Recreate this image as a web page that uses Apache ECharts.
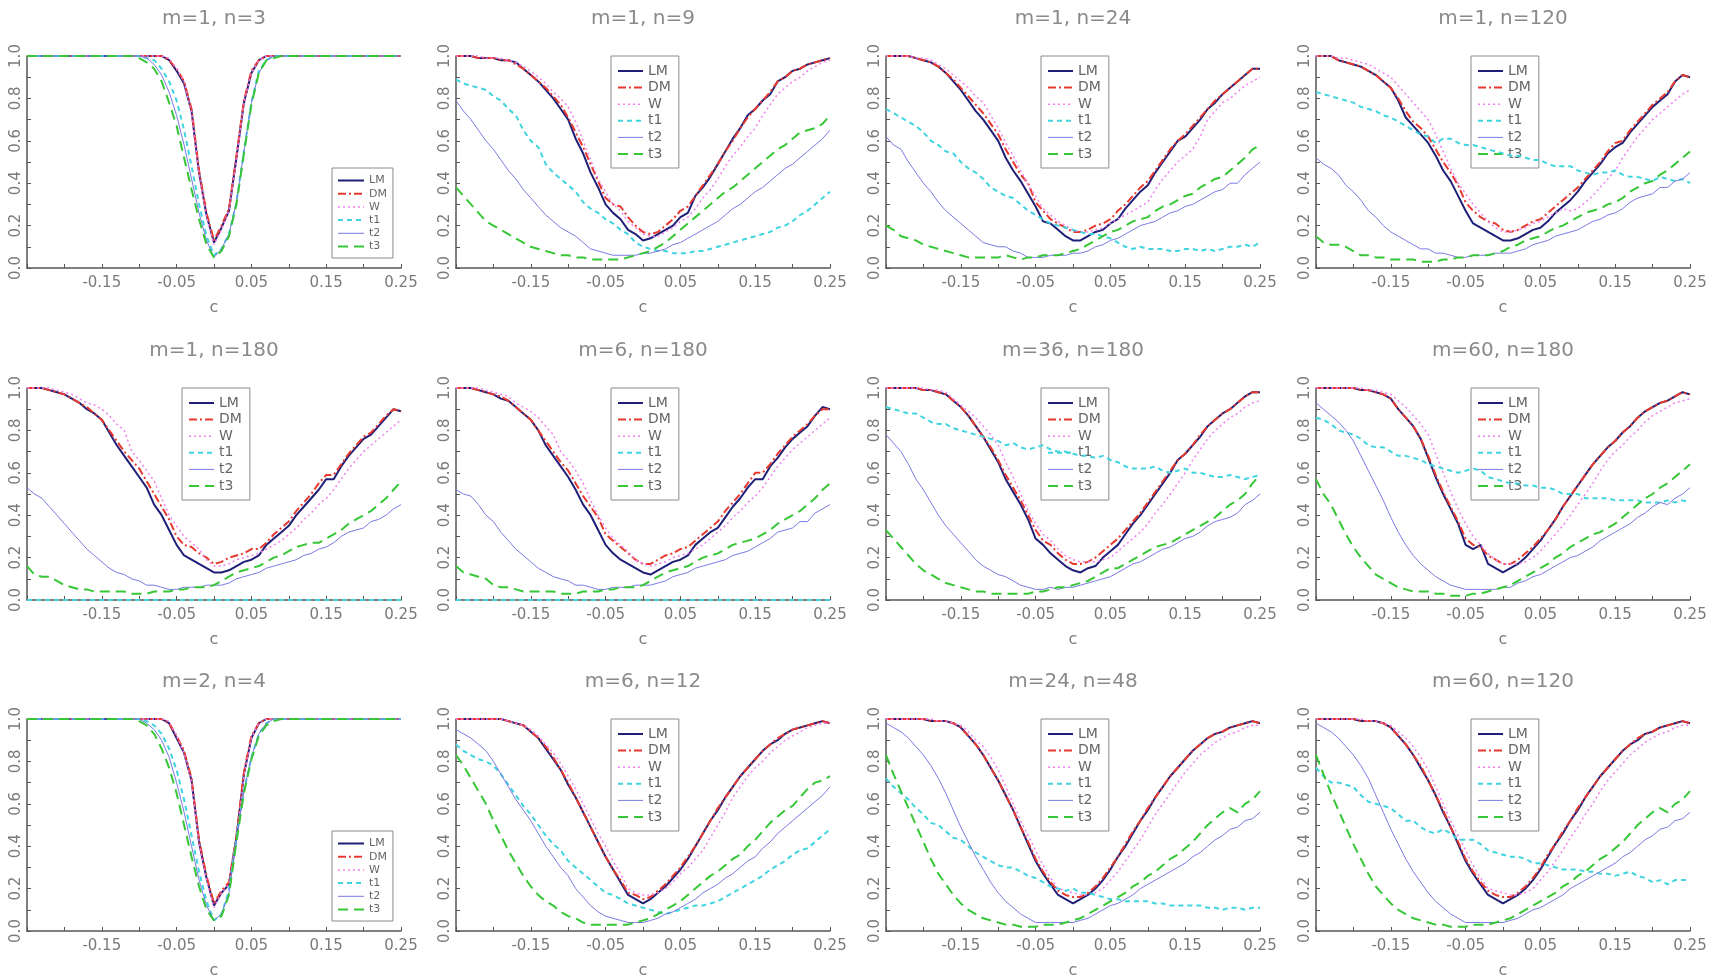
<!DOCTYPE html>
<html><head><meta charset="utf-8">
<script src="https://cdn.jsdelivr.net/npm/echarts@6/dist/echarts.min.js"></script>
<style>html,body{margin:0;padding:0;background:#fff}#c{width:1717px;height:980px}</style>
</head><body><div id="c"></div>
<script>
const C = [-0.25,-0.24,-0.23,-0.22,-0.21,-0.20,-0.19,-0.18,-0.17,-0.16,-0.15,-0.14,-0.13,-0.12,-0.11,-0.10,-0.09,-0.08,-0.07,-0.06,-0.05,-0.04,-0.03,-0.02,-0.01,0,0.01,0.02,0.03,0.04,0.05,0.06,0.07,0.08,0.09,0.10,0.11,0.12,0.13,0.14,0.15,0.16,0.17,0.18,0.19,0.20,0.21,0.22,0.23,0.24,0.25];
const names = ['LM','DM','W','t1','t2','t3'];
const xTickLabels = ['-0.15','-0.05','0.05','0.15','0.25'];
const yTickLabels = ['0.0','0.2','0.4','0.6','0.8','1.0'];

// m=1, n=3
const m1n3_LM = [1,1,1,1,1,1,1,1,1,1, 1,1,1,1,1,1,1,1,1,0.98, 0.93,0.87,0.74,0.45,0.25,0.12,0.19,0.27,0.52,0.78, 0.92,0.98,1,1,1,1,1,1,1,1, 1,1,1,1,1,1,1,1,1,1,1];
const m1n3_DM = [1,1,1,1,1,1,1,1,1,1, 1,1,1,1,1,1,1,1,1,0.98, 0.94,0.88,0.75,0.46,0.26,0.13,0.20,0.28,0.53,0.79, 0.93,0.98,1,1,1,1,1,1,1,1, 1,1,1,1,1,1,1,1,1,1,1];
const m1n3_W  = [1,1,1,1,1,1,1,1,1,1, 1,1,1,1,1,1,1,1,1,0.99, 0.94,0.88,0.73,0.44,0.24,0.11,0.18,0.27,0.51,0.78, 0.92,0.98,1,1,1,1,1,1,1,1, 1,1,1,1,1,1,1,1,1,1,1];
const m1n3_t1 = [1,1,1,1,1,1,1,1,1,1, 1,1,1,1,1,1,0.99,0.98,0.94,0.88, 0.79,0.65,0.48,0.30,0.15,0.06,0.09,0.16,0.31,0.55, 0.78,0.93,0.98,1,1,1,1,1,1,1, 1,1,1,1,1,1,1,1,1,1,1];
const m1n3_t2 = [1,1,1,1,1,1,1,1,1,1, 1,1,1,1,1,1,0.99,0.96,0.91,0.83, 0.72,0.58,0.42,0.26,0.13,0.05,0.09,0.16,0.31,0.55, 0.78,0.92,0.98,1,1,1,1,1,1,1, 1,1,1,1,1,1,1,1,1,1,1];
const m1n3_t3 = [1,1,1,1,1,1,1,1,1,1, 1,1,1,1,1,0.99,0.97,0.94,0.88,0.78, 0.67,0.52,0.37,0.23,0.11,0.05,0.08,0.15,0.30,0.54, 0.77,0.92,0.98,0.99,1,1,1,1,1,1, 1,1,1,1,1,1,1,1,1,1,1];

// m=1, n=9
const m1n9_LM = [1,1,1,0.99,0.99,0.99,0.98,0.98,0.97,0.94, 0.91,0.88,0.84,0.80,0.75,0.70,0.61,0.54,0.45,0.38, 0.30,0.26,0.23,0.18,0.16,0.13,0.14,0.16,0.18,0.20, 0.24,0.26,0.34,0.38,0.43,0.49,0.55,0.61,0.66,0.72, 0.75,0.79,0.82,0.88,0.90,0.93,0.94,0.96,0.97,0.98,0.99];
const m1n9_DM = [1,1,1,0.99,0.99,0.99,0.98,0.98,0.96,0.94, 0.91,0.88,0.85,0.81,0.77,0.71,0.64,0.57,0.49,0.41, 0.33,0.30,0.29,0.24,0.20,0.17,0.16,0.17,0.20,0.23, 0.27,0.29,0.34,0.39,0.44,0.49,0.55,0.60,0.66,0.71, 0.75,0.79,0.83,0.88,0.90,0.93,0.94,0.96,0.97,0.98,0.99];
const m1n9_W  = [1,1,1,1,0.99,0.99,0.99,0.98,0.97,0.95, 0.93,0.90,0.87,0.83,0.80,0.76,0.69,0.60,0.51,0.42, 0.36,0.30,0.27,0.22,0.19,0.16,0.15,0.15,0.17,0.19, 0.22,0.24,0.28,0.33,0.37,0.42,0.48,0.53,0.57,0.62, 0.66,0.72,0.77,0.82,0.85,0.88,0.90,0.93,0.95,0.97,0.98];
const m1n9_t1 = [0.89,0.87,0.86,0.85,0.84,0.81,0.79,0.75,0.72,0.65, 0.60,0.57,0.49,0.45,0.42,0.39,0.36,0.31,0.28,0.26, 0.23,0.21,0.18,0.16,0.12,0.10,0.09,0.08,0.08,0.07, 0.07,0.07,0.08,0.08,0.09,0.10,0.11,0.12,0.13,0.14, 0.15,0.16,0.17,0.19,0.20,0.22,0.25,0.27,0.30,0.33,0.36];
const m1n9_t2 = [0.79,0.74,0.70,0.65,0.60,0.56,0.51,0.46,0.42,0.37, 0.33,0.29,0.25,0.22,0.19,0.17,0.15,0.12,0.09,0.08, 0.07,0.06,0.06,0.06,0.06,0.07,0.07,0.08,0.09,0.11, 0.12,0.14,0.16,0.18,0.20,0.22,0.25,0.28,0.30,0.33, 0.36,0.38,0.41,0.44,0.47,0.49,0.52,0.55,0.58,0.61,0.65];
const m1n9_t3 = [0.38,0.34,0.30,0.26,0.22,0.20,0.18,0.16,0.14,0.12, 0.10,0.09,0.08,0.07,0.06,0.06,0.05,0.05,0.04,0.04, 0.04,0.04,0.04,0.05,0.06,0.07,0.08,0.10,0.12,0.15, 0.18,0.21,0.24,0.27,0.30,0.33,0.36,0.38,0.41,0.44, 0.47,0.50,0.53,0.56,0.58,0.61,0.64,0.65,0.66,0.68,0.72];

// m=1, n=24
const m1n24_LM = [1,1,1,1,0.99,0.98,0.97,0.95,0.92,0.88, 0.84,0.79,0.74,0.70,0.65,0.60,0.52,0.46,0.41,0.35, 0.29,0.22,0.21,0.18,0.15,0.13,0.13,0.15,0.17,0.18, 0.21,0.23,0.28,0.32,0.36,0.39,0.45,0.50,0.55,0.60, 0.62,0.66,0.70,0.75,0.78,0.82,0.85,0.88,0.91,0.94,0.94];
const m1n24_DM = [1,1,1,1,0.99,0.98,0.97,0.95,0.92,0.89, 0.85,0.81,0.77,0.73,0.68,0.63,0.56,0.50,0.44,0.40, 0.31,0.27,0.23,0.21,0.19,0.17,0.17,0.18,0.20,0.21, 0.23,0.27,0.30,0.34,0.38,0.41,0.46,0.51,0.56,0.60, 0.63,0.67,0.71,0.75,0.79,0.82,0.85,0.88,0.91,0.94,0.94];
const m1n24_W  = [1,1,1,1,0.99,0.99,0.98,0.96,0.94,0.91, 0.88,0.85,0.81,0.78,0.72,0.66,0.59,0.53,0.46,0.39, 0.34,0.28,0.25,0.22,0.20,0.18,0.17,0.17,0.18,0.19, 0.21,0.23,0.25,0.27,0.29,0.31,0.37,0.42,0.46,0.50, 0.53,0.56,0.62,0.70,0.74,0.78,0.80,0.83,0.86,0.88,0.90];
const m1n24_t1 = [0.75,0.73,0.71,0.69,0.67,0.64,0.60,0.58,0.55,0.54, 0.50,0.47,0.45,0.42,0.38,0.36,0.34,0.33,0.30,0.27, 0.25,0.23,0.21,0.20,0.19,0.18,0.17,0.16,0.16,0.15, 0.14,0.12,0.10,0.09,0.10,0.09,0.09,0.09,0.08,0.08, 0.09,0.09,0.08,0.09,0.08,0.09,0.10,0.10,0.11,0.10,0.12];
const m1n24_t2 = [0.62,0.58,0.56,0.50,0.45,0.40,0.36,0.31,0.27,0.24, 0.21,0.18,0.15,0.12,0.11,0.10,0.10,0.08,0.07,0.05, 0.05,0.05,0.06,0.06,0.06,0.07,0.07,0.08,0.10,0.11, 0.13,0.14,0.16,0.18,0.20,0.21,0.22,0.24,0.26,0.27, 0.29,0.30,0.32,0.34,0.36,0.37,0.40,0.40,0.44,0.47,0.50];
const m1n24_t3 = [0.20,0.18,0.15,0.14,0.13,0.11,0.10,0.09,0.08,0.07, 0.06,0.05,0.05,0.05,0.05,0.05,0.06,0.05,0.04,0.05, 0.05,0.06,0.06,0.06,0.07,0.08,0.09,0.11,0.13,0.15, 0.17,0.18,0.20,0.22,0.23,0.24,0.27,0.29,0.30,0.32, 0.34,0.35,0.38,0.40,0.42,0.43,0.46,0.49,0.52,0.56,0.58];

// m=1, n=120
const m1n120_LM = [1,1,1,0.98,0.97,0.96,0.95,0.93,0.91,0.88, 0.85,0.79,0.71,0.67,0.63,0.59,0.53,0.46,0.41,0.34, 0.27,0.21,0.19,0.17,0.15,0.13,0.13,0.14,0.16,0.18, 0.19,0.22,0.26,0.29,0.32,0.36,0.41,0.45,0.49,0.54, 0.57,0.59,0.64,0.68,0.72,0.76,0.79,0.82,0.88,0.91,0.90];
const m1n120_DM = [1,1,1,0.98,0.97,0.96,0.95,0.93,0.91,0.88, 0.85,0.80,0.74,0.69,0.66,0.62,0.56,0.50,0.45,0.39, 0.31,0.27,0.24,0.22,0.21,0.18,0.17,0.18,0.20,0.22, 0.23,0.26,0.29,0.32,0.35,0.38,0.42,0.46,0.50,0.55, 0.59,0.60,0.65,0.69,0.73,0.77,0.80,0.83,0.88,0.91,0.90];
const m1n120_W  = [1,1,1,0.99,0.99,0.98,0.97,0.96,0.94,0.92, 0.90,0.86,0.82,0.78,0.74,0.70,0.63,0.55,0.47,0.40, 0.35,0.30,0.26,0.22,0.19,0.17,0.17,0.18,0.19,0.21, 0.22,0.24,0.26,0.28,0.27,0.28,0.31,0.34,0.38,0.42, 0.46,0.52,0.57,0.62,0.66,0.70,0.73,0.76,0.79,0.82,0.84];
const m1n120_t1 = [0.83,0.82,0.81,0.80,0.79,0.78,0.76,0.75,0.74,0.72, 0.71,0.69,0.67,0.65,0.63,0.62,0.59,0.61,0.61,0.59, 0.58,0.58,0.57,0.56,0.55,0.54,0.53,0.53,0.52,0.51, 0.51,0.49,0.48,0.48,0.48,0.46,0.45,0.44,0.45,0.45, 0.46,0.44,0.43,0.43,0.42,0.41,0.43,0.42,0.41,0.42,0.40];
const m1n120_t2 = [0.52,0.49,0.47,0.44,0.39,0.36,0.32,0.27,0.24,0.20, 0.17,0.15,0.13,0.11,0.09,0.09,0.07,0.07,0.06,0.05, 0.05,0.06,0.06,0.06,0.07,0.07,0.07,0.08,0.09,0.11, 0.12,0.13,0.15,0.16,0.17,0.18,0.20,0.22,0.23,0.25, 0.26,0.28,0.31,0.33,0.34,0.35,0.38,0.38,0.41,0.42,0.45];
const m1n120_t3 = [0.15,0.12,0.11,0.11,0.10,0.08,0.06,0.06,0.05,0.05, 0.04,0.04,0.04,0.04,0.03,0.03,0.03,0.04,0.04,0.05, 0.05,0.06,0.06,0.06,0.07,0.08,0.10,0.11,0.13,0.14, 0.15,0.17,0.19,0.20,0.22,0.24,0.26,0.27,0.28,0.30, 0.31,0.33,0.36,0.38,0.40,0.41,0.44,0.46,0.49,0.52,0.55];

// m=1, n=180
const m1n180_LM = [1,1,1,0.99,0.98,0.97,0.95,0.93,0.90,0.88, 0.85,0.79,0.73,0.68,0.63,0.58,0.53,0.45,0.40,0.33, 0.26,0.21,0.19,0.17,0.15,0.13,0.13,0.14,0.16,0.18, 0.19,0.21,0.26,0.29,0.32,0.35,0.40,0.44,0.48,0.52, 0.57,0.57,0.63,0.68,0.72,0.76,0.78,0.82,0.86,0.90,0.89];
const m1n180_DM = [1,1,1,0.99,0.98,0.97,0.95,0.93,0.91,0.88, 0.85,0.80,0.75,0.70,0.66,0.62,0.56,0.50,0.44,0.38, 0.30,0.26,0.25,0.22,0.20,0.17,0.18,0.20,0.21,0.22, 0.24,0.24,0.27,0.31,0.34,0.37,0.42,0.46,0.50,0.55, 0.59,0.59,0.64,0.69,0.73,0.77,0.79,0.83,0.87,0.90,0.89];
const m1n180_W  = [1,1,1,1,0.99,0.98,0.97,0.95,0.93,0.92, 0.90,0.87,0.83,0.80,0.70,0.66,0.61,0.56,0.48,0.40, 0.35,0.30,0.27,0.24,0.19,0.16,0.16,0.17,0.19,0.20, 0.21,0.22,0.24,0.26,0.28,0.31,0.34,0.38,0.41,0.45, 0.48,0.52,0.57,0.62,0.66,0.70,0.73,0.76,0.79,0.82,0.85];
const m1n180_t1 = [0,0,0,0,0,0,0,0,0,0, 0,0,0,0,0,0,0,0,0,0, 0,0,0,0,0,0,0,0,0,0, 0,0,0,0,0,0,0,0,0,0, 0,0,0,0,0,0,0,0,0,0,0];
const m1n180_t2 = [0.53,0.50,0.48,0.44,0.40,0.36,0.32,0.28,0.24,0.21, 0.18,0.15,0.13,0.12,0.10,0.09,0.07,0.07,0.06,0.05, 0.05,0.06,0.06,0.06,0.07,0.07,0.07,0.08,0.10,0.11, 0.12,0.13,0.15,0.16,0.17,0.18,0.19,0.21,0.22,0.24, 0.25,0.27,0.30,0.32,0.33,0.34,0.37,0.38,0.40,0.43,0.45];
const m1n180_t3 = [0.16,0.12,0.11,0.11,0.09,0.07,0.06,0.05,0.05,0.04, 0.04,0.04,0.04,0.04,0.03,0.03,0.03,0.04,0.04,0.04, 0.05,0.05,0.06,0.06,0.06,0.07,0.09,0.11,0.13,0.14, 0.15,0.16,0.18,0.20,0.21,0.23,0.25,0.26,0.27,0.27, 0.29,0.31,0.33,0.36,0.38,0.40,0.42,0.45,0.48,0.52,0.56];

// m=6, n=180
const m6n180_LM = [1,1,1,0.99,0.98,0.97,0.95,0.94,0.91,0.88, 0.85,0.80,0.73,0.68,0.63,0.58,0.52,0.45,0.40,0.33, 0.26,0.22,0.19,0.17,0.15,0.13,0.12,0.14,0.16,0.18, 0.19,0.21,0.26,0.29,0.32,0.34,0.39,0.44,0.48,0.53, 0.57,0.57,0.63,0.67,0.72,0.76,0.79,0.82,0.87,0.91,0.90];
const m6n180_DM = [1,1,1,0.99,0.98,0.97,0.96,0.94,0.91,0.88, 0.85,0.80,0.75,0.70,0.65,0.61,0.55,0.49,0.44,0.39, 0.31,0.28,0.25,0.22,0.19,0.17,0.17,0.19,0.21,0.22, 0.24,0.25,0.28,0.31,0.34,0.37,0.42,0.46,0.50,0.55, 0.60,0.60,0.64,0.69,0.73,0.77,0.80,0.83,0.87,0.90,0.90];
const m6n180_W  = [1,1,1,1,0.99,0.98,0.97,0.96,0.93,0.91, 0.89,0.86,0.82,0.78,0.70,0.66,0.61,0.55,0.47,0.40, 0.34,0.29,0.26,0.23,0.19,0.17,0.16,0.17,0.18,0.20, 0.21,0.22,0.24,0.26,0.29,0.32,0.35,0.39,0.42,0.46, 0.49,0.53,0.58,0.63,0.67,0.71,0.74,0.77,0.80,0.83,0.86];
const m6n180_t1 = [0,0,0,0,0,0,0,0,0,0, 0,0,0,0,0,0,0,0,0,0, 0,0,0,0,0,0,0,0,0,0, 0,0,0,0,0,0,0,0,0,0, 0,0,0,0,0,0,0,0,0,0,0];
const m6n180_t2 = [0.52,0.50,0.49,0.45,0.40,0.37,0.32,0.28,0.24,0.21, 0.18,0.15,0.13,0.11,0.10,0.09,0.07,0.07,0.06,0.05, 0.05,0.06,0.06,0.06,0.07,0.07,0.07,0.08,0.09,0.11, 0.12,0.13,0.15,0.16,0.17,0.18,0.19,0.21,0.22,0.23, 0.25,0.27,0.29,0.32,0.33,0.34,0.37,0.37,0.41,0.43,0.45];
const m6n180_t3 = [0.16,0.13,0.12,0.11,0.10,0.07,0.06,0.06,0.05,0.04, 0.04,0.04,0.04,0.04,0.03,0.03,0.03,0.04,0.04,0.04, 0.05,0.05,0.06,0.06,0.06,0.07,0.09,0.11,0.13,0.14, 0.15,0.16,0.18,0.20,0.21,0.22,0.24,0.26,0.27,0.28, 0.29,0.31,0.33,0.36,0.38,0.40,0.42,0.45,0.48,0.52,0.55];

// m=36, n=180
const m36n180_LM = [1,1,1,1,1,0.99,0.99,0.98,0.97,0.94, 0.91,0.87,0.82,0.77,0.71,0.65,0.57,0.51,0.45,0.38, 0.29,0.26,0.22,0.19,0.16,0.14,0.13,0.15,0.16,0.20, 0.23,0.26,0.31,0.36,0.40,0.45,0.50,0.55,0.60,0.66, 0.69,0.73,0.77,0.82,0.85,0.88,0.90,0.93,0.96,0.98,0.98];
const m36n180_DM = [1,1,1,1,1,0.99,0.99,0.98,0.97,0.94, 0.91,0.87,0.82,0.77,0.72,0.66,0.59,0.53,0.47,0.40, 0.33,0.28,0.26,0.22,0.19,0.17,0.17,0.18,0.20,0.23, 0.26,0.29,0.33,0.37,0.41,0.46,0.51,0.56,0.61,0.66, 0.69,0.73,0.78,0.82,0.85,0.88,0.90,0.93,0.96,0.98,0.98];
const m36n180_W  = [1,1,1,1,1,1,0.99,0.99,0.98,0.95, 0.92,0.89,0.86,0.82,0.78,0.73,0.65,0.58,0.50,0.42, 0.36,0.31,0.28,0.24,0.21,0.19,0.18,0.18,0.18,0.19, 0.20,0.23,0.26,0.29,0.32,0.36,0.41,0.45,0.50,0.55, 0.60,0.66,0.71,0.76,0.80,0.83,0.86,0.88,0.91,0.93,0.94];
const m36n180_t1 = [0.91,0.90,0.89,0.88,0.88,0.86,0.84,0.83,0.83,0.81, 0.80,0.79,0.78,0.77,0.76,0.75,0.73,0.74,0.72,0.71, 0.72,0.73,0.71,0.70,0.70,0.69,0.68,0.68,0.67,0.68, 0.66,0.65,0.63,0.62,0.62,0.62,0.63,0.61,0.60,0.61, 0.62,0.60,0.60,0.59,0.58,0.58,0.59,0.58,0.57,0.58,0.59];
const m36n180_t2 = [0.78,0.74,0.70,0.64,0.57,0.52,0.46,0.40,0.35,0.31, 0.27,0.23,0.19,0.16,0.14,0.12,0.11,0.09,0.07,0.06, 0.05,0.05,0.06,0.05,0.06,0.06,0.07,0.08,0.09,0.10, 0.11,0.13,0.15,0.17,0.18,0.20,0.22,0.24,0.25,0.27, 0.29,0.30,0.32,0.35,0.37,0.38,0.39,0.41,0.45,0.47,0.50];
const m36n180_t3 = [0.33,0.29,0.25,0.21,0.17,0.14,0.12,0.10,0.08,0.07, 0.06,0.05,0.04,0.04,0.03,0.03,0.03,0.03,0.03,0.03, 0.04,0.04,0.05,0.06,0.06,0.07,0.08,0.09,0.11,0.13, 0.15,0.15,0.17,0.19,0.21,0.23,0.25,0.26,0.27,0.29, 0.31,0.33,0.35,0.37,0.39,0.42,0.45,0.47,0.50,0.55,0.59];

// m=60, n=180
const m60n180_LM = [1,1,1,1,1,1,0.99,0.99,0.98,0.97, 0.95,0.90,0.86,0.82,0.76,0.67,0.58,0.50,0.43,0.36, 0.26,0.24,0.26,0.17,0.15,0.13,0.15,0.17,0.20,0.24, 0.28,0.33,0.38,0.44,0.49,0.54,0.59,0.64,0.68,0.72, 0.75,0.79,0.82,0.86,0.89,0.91,0.93,0.94,0.96,0.98,0.97];
const m60n180_DM = [1,1,1,1,1,1,0.99,0.99,0.98,0.97, 0.95,0.90,0.86,0.82,0.76,0.68,0.59,0.51,0.44,0.37, 0.29,0.26,0.25,0.21,0.19,0.17,0.17,0.19,0.22,0.25, 0.29,0.33,0.38,0.44,0.49,0.54,0.59,0.64,0.68,0.72, 0.75,0.79,0.82,0.86,0.89,0.91,0.93,0.94,0.96,0.98,0.97];
const m60n180_W  = [1,1,1,1,1,1,1,0.99,0.99,0.98, 0.97,0.94,0.91,0.87,0.83,0.78,0.69,0.60,0.51,0.43, 0.36,0.30,0.26,0.22,0.19,0.17,0.17,0.17,0.18,0.20, 0.23,0.27,0.31,0.35,0.40,0.45,0.50,0.55,0.61,0.66, 0.70,0.73,0.77,0.80,0.84,0.87,0.89,0.91,0.93,0.94,0.95];
const m60n180_t1 = [0.86,0.85,0.83,0.80,0.79,0.78,0.76,0.73,0.72,0.72, 0.70,0.68,0.68,0.67,0.66,0.64,0.63,0.62,0.61,0.60, 0.61,0.62,0.61,0.58,0.57,0.56,0.55,0.55,0.54,0.54, 0.53,0.53,0.52,0.50,0.50,0.50,0.48,0.48,0.48,0.48, 0.47,0.47,0.47,0.47,0.46,0.46,0.46,0.47,0.46,0.47,0.46];
const m60n180_t2 = [0.93,0.90,0.87,0.84,0.80,0.75,0.68,0.61,0.54,0.47, 0.39,0.32,0.26,0.21,0.17,0.14,0.11,0.09,0.07,0.06, 0.05,0.05,0.05,0.05,0.05,0.06,0.06,0.08,0.09,0.11, 0.12,0.14,0.16,0.18,0.20,0.21,0.23,0.25,0.28,0.30, 0.32,0.34,0.36,0.39,0.41,0.44,0.46,0.45,0.48,0.50,0.53];
const m60n180_t3 = [0.57,0.50,0.45,0.38,0.31,0.25,0.20,0.16,0.12,0.10, 0.08,0.06,0.05,0.04,0.04,0.04,0.03,0.03,0.02,0.02, 0.02,0.03,0.03,0.04,0.05,0.06,0.07,0.09,0.11,0.13, 0.15,0.17,0.20,0.22,0.25,0.27,0.29,0.31,0.32,0.34, 0.36,0.39,0.42,0.45,0.48,0.50,0.53,0.55,0.58,0.61,0.64];

// m=2, n=4
const m2n4_LM = [1,1,1,1,1,1,1,1,1,1, 1,1,1,1,1,1,1,1,1,0.98, 0.91,0.84,0.71,0.42,0.25,0.12,0.18,0.22,0.44,0.74, 0.91,0.98,1,1,1,1,1,1,1,1, 1,1,1,1,1,1,1,1,1,1,1];
const m2n4_DM = [1,1,1,1,1,1,1,1,1,1, 1,1,1,1,1,1,1,1,1,0.98, 0.92,0.85,0.72,0.43,0.26,0.13,0.19,0.23,0.45,0.75, 0.92,0.98,1,1,1,1,1,1,1,1, 1,1,1,1,1,1,1,1,1,1,1];
const m2n4_W  = [1,1,1,1,1,1,1,1,1,1, 1,1,1,1,1,1,1,1,1,0.99, 0.92,0.84,0.70,0.41,0.24,0.11,0.18,0.22,0.43,0.73, 0.91,0.98,1,1,1,1,1,1,1,1, 1,1,1,1,1,1,1,1,1,1,1];
const m2n4_t1 = [1,1,1,1,1,1,1,1,1,1, 1,1,1,1,1,1,0.99,0.97,0.93,0.86, 0.76,0.62,0.45,0.28,0.14,0.05,0.08,0.19,0.44,0.66, 0.82,0.93,0.98,1,1,1,1,1,1,1, 1,1,1,1,1,1,1,1,1,1,1];
const m2n4_t2 = [1,1,1,1,1,1,1,1,1,1, 1,1,1,1,1,1,0.98,0.95,0.90,0.82, 0.70,0.56,0.40,0.24,0.12,0.05,0.08,0.18,0.43,0.66, 0.82,0.93,0.98,1,1,1,1,1,1,1, 1,1,1,1,1,1,1,1,1,1,1];
const m2n4_t3 = [1,1,1,1,1,1,1,1,1,1, 1,1,1,1,1,0.99,0.97,0.93,0.86,0.77, 0.65,0.50,0.35,0.21,0.10,0.05,0.07,0.17,0.42,0.65, 0.81,0.92,0.97,0.99,1,1,1,1,1,1, 1,1,1,1,1,1,1,1,1,1,1];

// m=6, n=12
const m6n12_LM = [1,1,1,1,1,1,1,0.99,0.98,0.97, 0.94,0.91,0.86,0.81,0.76,0.69,0.63,0.56,0.49,0.42, 0.35,0.29,0.23,0.17,0.15,0.13,0.15,0.18,0.21,0.25, 0.29,0.34,0.40,0.46,0.52,0.57,0.63,0.68,0.73,0.77, 0.81,0.85,0.88,0.90,0.93,0.95,0.96,0.97,0.98,0.99,0.98];
const m6n12_DM = [1,1,1,1,1,1,1,0.99,0.98,0.97, 0.94,0.91,0.87,0.82,0.76,0.70,0.63,0.56,0.49,0.42, 0.35,0.29,0.24,0.18,0.17,0.15,0.16,0.19,0.22,0.26, 0.30,0.35,0.40,0.46,0.52,0.58,0.63,0.68,0.73,0.77, 0.81,0.85,0.88,0.91,0.93,0.95,0.96,0.97,0.98,0.99,0.98];
const m6n12_W  = [1,1,1,1,1,1,1,0.99,0.98,0.97, 0.95,0.92,0.88,0.84,0.79,0.73,0.67,0.60,0.53,0.46, 0.40,0.33,0.27,0.20,0.18,0.17,0.17,0.18,0.20,0.23, 0.27,0.30,0.34,0.38,0.44,0.50,0.56,0.63,0.68,0.73, 0.77,0.80,0.84,0.87,0.90,0.92,0.94,0.96,0.97,0.98,0.98];
const m6n12_t1 = [0.88,0.85,0.83,0.81,0.80,0.78,0.74,0.69,0.64,0.59, 0.55,0.50,0.45,0.41,0.38,0.33,0.30,0.27,0.24,0.21, 0.18,0.17,0.15,0.13,0.12,0.11,0.10,0.09,0.08,0.09, 0.10,0.11,0.12,0.12,0.13,0.14,0.16,0.18,0.20,0.22, 0.24,0.26,0.29,0.31,0.33,0.36,0.38,0.39,0.42,0.45,0.48];
const m6n12_t2 = [0.95,0.93,0.91,0.88,0.85,0.80,0.74,0.68,0.62,0.57, 0.52,0.46,0.40,0.35,0.30,0.26,0.20,0.16,0.12,0.09, 0.07,0.06,0.05,0.04,0.04,0.04,0.05,0.06,0.08,0.09, 0.11,0.13,0.15,0.18,0.20,0.22,0.25,0.27,0.30,0.33, 0.35,0.39,0.42,0.46,0.49,0.52,0.55,0.58,0.61,0.64,0.68];
const m6n12_t3 = [0.83,0.78,0.72,0.66,0.60,0.52,0.45,0.38,0.32,0.26, 0.21,0.17,0.14,0.12,0.09,0.07,0.06,0.04,0.03,0.03, 0.03,0.03,0.03,0.03,0.04,0.05,0.06,0.08,0.10,0.12, 0.14,0.17,0.20,0.23,0.26,0.28,0.31,0.34,0.36,0.40, 0.43,0.47,0.51,0.54,0.57,0.59,0.63,0.67,0.70,0.71,0.73];

// m=24, n=48
const m24n48_LM = [1,1,1,1,1,1,0.99,0.99,0.99,0.98, 0.96,0.92,0.88,0.83,0.77,0.71,0.64,0.57,0.49,0.41, 0.33,0.27,0.22,0.17,0.15,0.13,0.15,0.17,0.20,0.24, 0.29,0.35,0.40,0.46,0.52,0.57,0.63,0.68,0.73,0.77, 0.81,0.85,0.88,0.91,0.93,0.94,0.96,0.97,0.98,0.99,0.98];
const m24n48_DM = [1,1,1,1,1,1,0.99,0.99,0.99,0.98, 0.96,0.92,0.88,0.83,0.77,0.71,0.64,0.57,0.49,0.42, 0.34,0.28,0.23,0.19,0.17,0.16,0.16,0.18,0.21,0.25, 0.30,0.35,0.41,0.47,0.52,0.58,0.63,0.68,0.73,0.77, 0.81,0.85,0.88,0.91,0.93,0.94,0.96,0.97,0.98,0.99,0.98];
const m24n48_W  = [1,1,1,1,1,1,1,0.99,0.99,0.98, 0.97,0.94,0.90,0.87,0.82,0.76,0.68,0.60,0.52,0.45, 0.38,0.31,0.25,0.20,0.19,0.18,0.17,0.17,0.18,0.20, 0.24,0.28,0.33,0.38,0.43,0.49,0.55,0.60,0.65,0.70, 0.75,0.79,0.83,0.86,0.89,0.91,0.93,0.94,0.96,0.97,0.97];
const m24n48_t1 = [0.72,0.68,0.65,0.62,0.58,0.55,0.51,0.50,0.47,0.44, 0.43,0.40,0.37,0.35,0.33,0.31,0.30,0.30,0.28,0.26, 0.25,0.23,0.21,0.20,0.19,0.20,0.18,0.18,0.17,0.16, 0.15,0.15,0.14,0.14,0.14,0.14,0.13,0.13,0.12,0.12, 0.12,0.12,0.12,0.11,0.11,0.10,0.11,0.11,0.10,0.11,0.11];
const m24n48_t2 = [0.98,0.96,0.94,0.91,0.87,0.83,0.78,0.72,0.65,0.57, 0.49,0.42,0.35,0.29,0.23,0.18,0.14,0.11,0.08,0.06, 0.04,0.04,0.04,0.04,0.04,0.04,0.05,0.06,0.08,0.10, 0.12,0.13,0.15,0.17,0.20,0.22,0.24,0.26,0.28,0.30, 0.32,0.35,0.37,0.40,0.43,0.45,0.48,0.49,0.52,0.53,0.56];
const m24n48_t3 = [0.83,0.74,0.66,0.58,0.50,0.42,0.34,0.27,0.22,0.17, 0.13,0.10,0.08,0.06,0.05,0.04,0.03,0.03,0.02,0.02, 0.02,0.03,0.03,0.03,0.04,0.05,0.06,0.08,0.10,0.12, 0.14,0.16,0.18,0.21,0.23,0.26,0.28,0.31,0.34,0.36, 0.39,0.42,0.46,0.50,0.53,0.56,0.58,0.56,0.60,0.62,0.66];

// m=60, n=120
const m60n120_LM = [1,1,1,1,1,1,0.99,0.99,0.99,0.98, 0.96,0.92,0.88,0.83,0.77,0.71,0.64,0.56,0.49,0.41, 0.33,0.27,0.22,0.17,0.15,0.13,0.15,0.17,0.20,0.24, 0.29,0.35,0.41,0.46,0.52,0.57,0.63,0.68,0.73,0.77, 0.81,0.85,0.88,0.90,0.93,0.94,0.96,0.97,0.98,0.99,0.98];
const m60n120_DM = [1,1,1,1,1,1,0.99,0.99,0.99,0.98, 0.96,0.92,0.88,0.83,0.78,0.71,0.64,0.57,0.49,0.42, 0.34,0.28,0.23,0.19,0.17,0.16,0.16,0.18,0.21,0.25, 0.30,0.36,0.41,0.47,0.52,0.58,0.63,0.68,0.73,0.77, 0.81,0.85,0.88,0.91,0.93,0.94,0.96,0.97,0.98,0.99,0.98];
const m60n120_W  = [1,1,1,1,1,1,1,0.99,0.99,0.98, 0.97,0.94,0.91,0.87,0.82,0.76,0.68,0.60,0.52,0.45, 0.38,0.31,0.25,0.20,0.19,0.18,0.17,0.17,0.18,0.20, 0.24,0.28,0.33,0.38,0.44,0.49,0.55,0.60,0.66,0.71, 0.75,0.79,0.83,0.86,0.89,0.91,0.93,0.94,0.96,0.97,0.97];
const m60n120_t1 = [0.77,0.73,0.70,0.70,0.69,0.68,0.64,0.61,0.60,0.59, 0.58,0.55,0.52,0.52,0.49,0.47,0.46,0.48,0.46,0.43, 0.43,0.43,0.41,0.38,0.37,0.36,0.35,0.35,0.34,0.32, 0.32,0.31,0.30,0.29,0.29,0.29,0.28,0.28,0.27,0.27, 0.26,0.27,0.28,0.26,0.25,0.23,0.24,0.22,0.24,0.24,0.24];
const m60n120_t2 = [0.98,0.96,0.94,0.91,0.87,0.83,0.78,0.72,0.64,0.56, 0.48,0.41,0.34,0.28,0.23,0.18,0.14,0.11,0.08,0.06, 0.04,0.04,0.04,0.04,0.04,0.04,0.05,0.06,0.08,0.10, 0.11,0.13,0.15,0.17,0.20,0.22,0.24,0.26,0.28,0.30, 0.32,0.35,0.37,0.40,0.43,0.45,0.48,0.49,0.52,0.53,0.56];
const m60n120_t3 = [0.83,0.74,0.65,0.57,0.49,0.41,0.34,0.27,0.21,0.17, 0.13,0.10,0.08,0.06,0.05,0.04,0.03,0.03,0.02,0.02, 0.02,0.03,0.03,0.03,0.04,0.05,0.06,0.08,0.10,0.12, 0.14,0.16,0.18,0.21,0.23,0.26,0.28,0.31,0.34,0.36, 0.39,0.42,0.46,0.50,0.53,0.56,0.58,0.56,0.60,0.62,0.66];

const panels = [
  {title:'m=1, n=3',    small:true,  d:[m1n3_LM,m1n3_DM,m1n3_W,m1n3_t1,m1n3_t2,m1n3_t3]},
  {title:'m=1, n=9',    small:false, d:[m1n9_LM,m1n9_DM,m1n9_W,m1n9_t1,m1n9_t2,m1n9_t3]},
  {title:'m=1, n=24',   small:false, d:[m1n24_LM,m1n24_DM,m1n24_W,m1n24_t1,m1n24_t2,m1n24_t3]},
  {title:'m=1, n=120',  small:false, d:[m1n120_LM,m1n120_DM,m1n120_W,m1n120_t1,m1n120_t2,m1n120_t3]},
  {title:'m=1, n=180',  small:false, d:[m1n180_LM,m1n180_DM,m1n180_W,m1n180_t1,m1n180_t2,m1n180_t3]},
  {title:'m=6, n=180',  small:false, d:[m6n180_LM,m6n180_DM,m6n180_W,m6n180_t1,m6n180_t2,m6n180_t3]},
  {title:'m=36, n=180', small:false, d:[m36n180_LM,m36n180_DM,m36n180_W,m36n180_t1,m36n180_t2,m36n180_t3]},
  {title:'m=60, n=180', small:false, d:[m60n180_LM,m60n180_DM,m60n180_W,m60n180_t1,m60n180_t2,m60n180_t3]},
  {title:'m=2, n=4',    small:true,  d:[m2n4_LM,m2n4_DM,m2n4_W,m2n4_t1,m2n4_t2,m2n4_t3]},
  {title:'m=6, n=12',   small:false, d:[m6n12_LM,m6n12_DM,m6n12_W,m6n12_t1,m6n12_t2,m6n12_t3]},
  {title:'m=24, n=48',  small:false, d:[m24n48_LM,m24n48_DM,m24n48_W,m24n48_t1,m24n48_t2,m24n48_t3]},
  {title:'m=60, n=120', small:false, d:[m60n120_LM,m60n120_DM,m60n120_W,m60n120_t1,m60n120_t2,m60n120_t3]}
];

panels.forEach(p => p.d.forEach((a, j) => {
  if (a.length !== C.length) throw new Error(p.title + ' ' + names[j] + ' length ' + a.length);
}));

const ST = {
  LM: {color:'#1f1f78', width:2,   type:'solid'},
  DM: {color:'#e63a30', width:2,   type:[8,3,2,3]},
  W:  {color:'#f080ee', width:1.5, type:[2,3]},
  t1: {color:'#40d4e0', width:2,   type:[5,4]},
  t2: {color:'#7a7ae2', width:1,   type:'solid'},
  t3: {color:'#36c636', width:2,   type:[10,6]}
};
const FONT = 'DejaVu Sans';
const colLeft = [27, 456, 886, 1316], rowTop = [56, 388, 719], titleTop = [9, 341, 672];
const GW = 374, GH = 212;

const option = {animation:false, backgroundColor:'#ffffff', title:[], legend:[], grid:[], xAxis:[], yAxis:[], series:[]};

panels.forEach((p, i) => {
  const r = Math.floor(i / 4), c = i % 4;
  const L = colLeft[c], T = rowTop[r];
  option.grid.push({left:L, top:T, width:GW, height:GH});
  option.title.push({text:p.title, left:L + GW / 2, top:titleTop[r], textAlign:'center', padding:0,
    textStyle:{fontFamily:FONT, fontSize:20, fontWeight:'normal', color:'#8a8a8a'}});
  option.xAxis.push({gridIndex:i, type:'value', min:-0.25, max:0.25, interval:0.05,
    axisLine:{show:true, onZero:false, lineStyle:{color:'#555', width:1.5}},
    axisTick:{show:true, inside:true, length:4, lineStyle:{color:'#555', width:1}},
    splitLine:{show:false},
    axisLabel:{fontFamily:FONT, fontSize:15, color:'#7a7a7a', margin:8,
      formatter: v => { const s = v.toFixed(2); return xTickLabels.includes(s) ? s : ''; }},
    name:'c', nameLocation:'middle', nameGap:32,
    nameTextStyle:{fontFamily:FONT, fontSize:16, color:'#7a7a7a'}});
  option.yAxis.push({gridIndex:i, type:'value', min:0, max:1, interval:0.1,
    axisLine:{show:true, onZero:false, lineStyle:{color:'#555', width:1.5}},
    axisTick:{show:true, inside:true, length:4, lineStyle:{color:'#555', width:1}},
    splitLine:{show:false},
    axisLabel:{fontFamily:FONT, fontSize:15, color:'#7a7a7a', margin:3, rotate:90,
      formatter: v => { const s = v.toFixed(1); return yTickLabels.includes(s) ? s : ''; }}});
  const lg = p.small
    ? {left:L + 305, top:T + 112, padding:[7,6,6,5], itemWidth:26, itemHeight:10, itemGap:2.2, fs:11}
    : {left:L + 155, top:T, padding:[8,8,7,6], itemWidth:25, itemHeight:12, itemGap:2.6, fs:14};
  option.legend.push({
    data: names.map(n => ({name:n, lineStyle:{width:ST[n].width}})),
    orient:'vertical', selectedMode:false, left:lg.left, top:lg.top, padding:lg.padding,
    itemWidth:lg.itemWidth, itemHeight:lg.itemHeight, itemGap:lg.itemGap,
    borderColor:'#8a8a8a', borderWidth:1, backgroundColor:'rgba(255,255,255,0)',
    itemStyle:{opacity:0},
    textStyle:{fontFamily:FONT, fontSize:lg.fs, color:'#666'}
  });
  names.forEach((n, j) => {
    option.series.push({type:'line', name:n, xAxisIndex:i, yAxisIndex:i,
      data: C.map((x, k) => [x, p.d[j][k]]),
      symbol:'none', showSymbol:false, clip:false, z:2 + j,
      lineStyle:{color:ST[n].color, width:ST[n].width, type:ST[n].type},
      itemStyle:{color:ST[n].color}});
  });
});

const chart = echarts.init(document.getElementById('c'), null, {renderer:'canvas'});
chart.setOption(option);
</script>
</body></html>
